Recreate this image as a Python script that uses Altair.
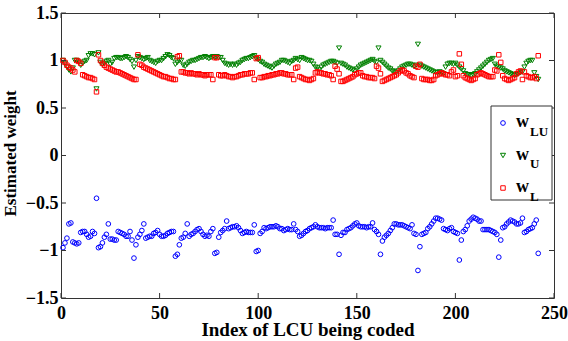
import altair as alt
import pandas as pd

# LCU index for every coded unit
x_index = list(range(1, 243))

# Estimated weight of the left-upper neighbour
w_lu = [
    -0.97, -0.92, -0.87, -0.72, -0.71, -0.91, -0.92, -0.93, -0.92, -0.81,
    -0.80, -0.80, -0.83, -0.86, -0.85, -0.80, -0.82, -0.45, -0.97, -0.96,
    -0.92, -0.86, -0.83, -0.72, -0.88, -0.88, -0.89, -0.89, -0.80, -0.81,
    -0.82, -0.83, -0.85, -0.85, -0.80, -0.89, -1.08, -0.94, -0.86, -0.83,
    -0.79, -0.72, -0.87, -0.86, -0.85, -0.85, -0.82, -0.81, -0.79, -0.83,
    -0.85, -0.85, -0.84, -0.82, -0.81, -0.80, -0.80, -1.06, -1.04, -0.94,
    -0.87, -0.86, -0.82, -0.72, -0.85, -0.83, -0.82, -0.80, -0.78, -0.77,
    -0.80, -0.83, -0.85, -0.84, -0.85, -0.80, -0.77, -1.03, -1.02, -0.86,
    -0.81, -0.79, -0.77, -0.69, -0.77, -0.76, -0.75, -0.75, -0.74, -0.76,
    -0.79, -0.82, -0.81, -0.80, -0.81, -0.81, -0.81, -0.73, -1.01, -1.00,
    -0.82, -0.80, -0.76, -0.77, -0.76, -0.75, -0.75, -0.75, -0.74, -0.75,
    -0.77, -0.77, -0.79, -0.78, -0.77, -0.78, -0.78, -0.72, -0.78, -0.80,
    -0.85, -0.84, -0.82, -0.80, -0.79, -0.77, -0.76, -0.75, -0.73, -0.75,
    -0.76, -0.76, -0.76, -0.77, -0.76, -0.76, -0.76, -0.68, -0.83, -0.83,
    -1.04, -0.84, -0.81, -0.81, -0.78, -0.77, -0.76, -0.74, -0.72, -0.71,
    -0.74, -0.75, -0.75, -0.75, -0.76, -0.75, -0.75, -0.71, -0.78, -0.80,
    -0.83, -1.04, -0.90, -0.86, -0.84, -0.82, -0.79, -0.76, -0.72, -0.72,
    -0.73, -0.73, -0.73, -0.74, -0.75, -0.76, -0.77, -0.73, -0.82, -0.83,
    -1.21, -0.96, -0.83, -0.82, -0.81, -0.77, -0.75, -0.72, -0.69, -0.66,
    -0.66, -0.67, -0.68, -0.77, -0.78, -0.79, -0.77, -0.76, -0.80, -0.81,
    -0.82, -1.10, -0.89, -0.80, -0.78, -0.74, -0.69, -0.67, -0.65, -0.66,
    -0.67, -0.69, -0.69, -0.78, -0.78, -0.78, -0.78, -0.79, -0.80, -0.81,
    -0.83, -1.07, -0.89, -0.76, -0.75, -0.72, -0.70, -0.68, -0.69, -0.70,
    -0.72, -0.72, -0.71, -0.66, -0.81, -0.80, -0.78, -0.77, -0.76, -0.72,
    -0.68, -1.03,
]

# Estimated weight of the upper neighbour
w_u = [
    1.00, 0.97, 0.93, 0.90, 0.88, 0.92, 1.00, 1.00, 0.98, 0.95,
    0.97, 0.99, 1.00, 1.05, 1.07, 1.07, 1.06, 0.70, 1.08, 0.98,
    0.96, 0.97, 0.99, 1.00, 0.96, 0.98, 1.02, 1.03, 1.03, 1.02,
    1.02, 1.03, 1.04, 1.03, 1.01, 0.99, 0.93, 1.00, 1.04, 1.03,
    1.02, 1.01, 1.02, 1.03, 1.00, 0.99, 0.98, 0.97, 0.99, 1.00,
    1.00, 1.02, 1.04, 1.06, 1.05, 1.03, 1.02, 0.96, 0.98, 1.00,
    1.00, 0.95, 0.94, 0.96, 0.98, 0.99, 1.00, 1.00, 1.01, 1.02,
    1.03, 1.03, 1.04, 1.03, 1.02, 1.03, 1.04, 1.03, 1.04, 1.03,
    1.03, 1.00, 0.97, 0.96, 0.95, 0.96, 0.95, 0.96, 0.95, 0.97,
    0.98, 1.00, 1.01, 1.02, 1.02, 1.03, 1.04, 1.05, 1.02, 1.01,
    0.99, 0.98, 0.96, 0.95, 0.94, 0.93, 0.92, 0.94, 0.96, 0.97,
    0.98, 1.00, 1.00, 0.99, 0.98, 0.97, 0.99, 1.00, 1.02, 1.01,
    1.00, 1.03, 1.02, 1.01, 1.00, 1.00, 0.99, 0.96, 0.93, 0.92,
    0.90, 0.93, 0.95, 0.96, 0.97, 0.98, 0.99, 0.99, 0.98, 0.97,
    1.13, 0.97, 0.96, 0.95, 0.93, 0.92, 0.91, 0.90, 0.89, 0.91,
    0.93, 0.95, 0.96, 0.97, 0.98, 0.99, 1.00, 1.01, 0.99, 0.98,
    1.13, 1.00, 0.98, 0.96, 0.94, 0.92, 0.91, 0.89, 0.88, 0.87,
    0.89, 0.91, 0.93, 0.94, 0.95, 0.96, 0.96, 0.95, 0.94, 0.95,
    1.17, 0.95, 0.94, 0.93, 0.92, 0.91, 0.90, 0.89, 0.88, 0.87,
    0.87, 0.88, 0.87, 0.86, 0.93, 0.96, 0.97, 0.97, 0.96, 0.97,
    0.95, 0.93, 0.91, 0.89, 0.86, 0.85, 0.85, 0.84, 0.85, 0.86,
    0.88, 0.90, 0.92, 0.94, 0.96, 0.98, 1.00, 1.01, 1.02, 0.96,
    0.94, 0.93, 0.92, 0.91, 0.89, 0.88, 0.87, 0.86, 0.85, 0.84,
    0.85, 0.86, 0.87, 0.88, 0.93, 0.97, 0.99, 1.00, 1.00, 0.87,
    0.83, 0.80,
]

# Estimated weight of the left neighbour
w_l = [
    1.00, 0.98, 0.95, 0.93, 0.92, 0.90, 0.88, 1.00, 0.99, 0.97,
    0.85, 0.84, 0.83, 0.82, 0.82, 0.81, 0.80, 0.67, 1.06, 1.00,
    0.97, 0.95, 0.93, 0.92, 0.91, 0.90, 0.89, 0.88, 0.88, 0.87,
    0.86, 0.85, 0.84, 0.83, 0.82, 0.81, 0.80, 0.80, 1.06, 0.96,
    0.95, 0.93, 0.92, 0.91, 0.90, 0.89, 0.88, 0.87, 0.86, 0.85,
    0.84, 0.83, 0.83, 0.82, 0.81, 0.81, 0.80, 0.80, 1.04, 1.05,
    0.88, 0.88, 0.87, 0.87, 0.86, 0.87, 0.86, 0.86, 0.85, 0.86,
    0.85, 0.85, 0.84, 0.85, 0.85, 0.85, 0.80, 1.03, 1.03, 0.85,
    0.84, 0.84, 0.85, 0.84, 0.83, 0.83, 0.82, 0.83, 0.83, 0.84,
    0.85, 0.85, 0.86, 0.86, 0.86, 0.87, 0.87, 0.80, 1.02, 1.03,
    0.82, 0.82, 0.83, 0.83, 0.84, 0.84, 0.85, 0.85, 0.86, 0.86,
    0.87, 0.87, 0.86, 0.86, 0.85, 0.85, 0.85, 0.80, 0.92, 0.93,
    0.83, 0.82, 0.81, 0.80, 0.80, 0.79, 0.80, 0.81, 0.87, 0.88,
    0.87, 0.87, 0.86, 0.86, 0.85, 0.85, 0.84, 0.80, 0.94, 0.91,
    0.86, 0.78, 0.78, 0.79, 0.80, 0.81, 0.82, 0.83, 0.85, 0.86,
    0.87, 0.87, 0.84, 0.83, 0.83, 0.82, 0.82, 0.82, 0.81, 0.94,
    0.92, 0.86, 0.78, 0.79, 0.80, 0.81, 0.82, 0.83, 0.84, 0.85,
    0.87, 0.89, 0.90, 0.89, 0.87, 0.86, 0.84, 0.83, 0.82, 0.94,
    0.93, 0.96, 0.81, 0.80, 0.80, 0.80, 0.79, 0.79, 0.80, 0.84,
    0.85, 0.86, 0.87, 0.86, 0.85, 0.85, 0.84, 0.88, 0.90, 0.83,
    0.84, 1.07, 0.96, 0.84, 0.82, 0.81, 0.80, 0.79, 0.80, 0.81,
    0.85, 0.86, 0.87, 0.86, 0.85, 0.84, 0.83, 0.83, 0.83, 0.90,
    0.89, 1.06, 0.98, 0.84, 0.81, 0.80, 0.79, 0.80, 0.81, 0.82,
    0.86, 0.88, 0.89, 0.80, 0.88, 0.84, 0.83, 0.82, 0.82, 0.83,
    0.81, 1.05,
]

series_values = [w_lu, w_u, w_l]
series_colors = ["#0000ff", "#008000", "#ff0000"]
series_shapes = ["circle", "triangle-down", "square"]
series_sizes = [22, 26, 20]
legend_main = ["w", "w", "w"]
legend_sub = ["LU", "U", "L"]
x_ticks = [0, 50, 100, 150, 200, 250]
y_ticks = [-1.5, -1, -0.5, 0, 0.5, 1, 1.5]

FONT = "Liberation Serif"
PLOT_W, PLOT_H = 493, 285
TICK_LEN = 5
FRAME = "#333333"

x_scale = alt.Scale(domain=[0, 250], nice=False, zero=False)
y_scale = alt.Scale(domain=[-1.5, 1.5], nice=False, zero=False)

x_axis = alt.Axis(
    values=x_ticks, format="d", grid=False, domain=False, ticks=False, tickSize=0,
    labelFont=FONT, labelFontSize=18, labelFontWeight="bold", labelColor="black",
    labelPadding=6, labelFlush=False, labelOverlap=False,
    title="Index of LCU being coded", titleFont=FONT, titleFontSize=19,
    titleFontWeight="bold", titleColor="black", titleBaseline="alphabetic",
    titleY=37,
)
y_axis = alt.Axis(
    values=y_ticks, format=".1~f", grid=False, domain=False, ticks=False, tickSize=0,
    labelFont=FONT, labelFontSize=18, labelFontWeight="bold", labelColor="black",
    labelPadding=3, labelFlush=False, labelOverlap=False, labelBaseline="middle",
    title="Estimated weight", titleFont=FONT, titleFontSize=17,
    titleFontWeight="bold", titleColor="black", titleBaseline="alphabetic",
    titleX=-46, titleY=140,
)


def enc_x(field):
    return alt.X(field, type="quantitative", scale=x_scale, axis=x_axis,
                 title="Index of LCU being coded")


def enc_y(field):
    return alt.Y(field, type="quantitative", scale=y_scale, axis=y_axis,
                 title="Estimated weight")


layers = []

# scatter series
for vals, color, shape, size in zip(series_values, series_colors, series_shapes, series_sizes):
    d = pd.DataFrame({"idx": x_index, "weight": vals})
    layers.append(
        alt.Chart(d).mark_point(shape=shape, filled=False, color=color,
                                size=size, strokeWidth=1, opacity=1)
        .encode(x=enc_x("idx"), y=enc_y("weight"))
    )

# inward tick marks on all four sides of the box
xt = pd.DataFrame({"t": x_ticks})
yt = pd.DataFrame({"t": y_ticks})
layers.append(alt.Chart(xt).mark_rule(color=FRAME, strokeWidth=1).encode(
    x=enc_x("t"), y=alt.value(PLOT_H), y2=alt.value(PLOT_H - TICK_LEN)))
layers.append(alt.Chart(xt).mark_rule(color=FRAME, strokeWidth=1).encode(
    x=enc_x("t"), y=alt.value(0), y2=alt.value(TICK_LEN)))
layers.append(alt.Chart(yt).mark_rule(color=FRAME, strokeWidth=1).encode(
    y=enc_y("t"), x=alt.value(0), x2=alt.value(TICK_LEN)))
layers.append(alt.Chart(yt).mark_rule(color=FRAME, strokeWidth=1).encode(
    y=enc_y("t"), x=alt.value(PLOT_W), x2=alt.value(PLOT_W - TICK_LEN)))

# legend box
layers.append(alt.Chart(pd.DataFrame({"k": [0]})).mark_rect(
    fill="white", stroke=FRAME, strokeWidth=1).encode(
    x=alt.value(430), x2=alt.value(491), y=alt.value(93), y2=alt.value(187)))

for k in range(3):
    yk = 110 + 32.5 * k
    ld = pd.DataFrame({"main": [legend_main[k]], "sub": [legend_sub[k]]})
    layers.append(alt.Chart(ld).mark_point(
        shape=series_shapes[k], filled=False, color=series_colors[k],
        size=series_sizes[k], strokeWidth=1, opacity=1).encode(
        x=alt.value(442), y=alt.value(yk)))
    layers.append(alt.Chart(ld).mark_text(
        font=FONT, fontSize=18, fontWeight="bold", color="black",
        align="left", baseline="alphabetic").encode(
        x=alt.value(455), y=alt.value(yk + 4), text="main:N"))
    layers.append(alt.Chart(ld).mark_text(
        font=FONT, fontSize=13, fontWeight="bold", color="black",
        align="left", baseline="alphabetic").encode(
        x=alt.value(469), y=alt.value(yk + 12.5), text="sub:N"))

chart = (
    alt.layer(*layers)
    .properties(width=PLOT_W, height=PLOT_H,
                autosize=alt.AutoSizeParams(type="none"),
                padding={"left": 61, "top": 13, "right": 14, "bottom": 43},
                background="white")
    .configure_view(stroke=FRAME, strokeWidth=1)
)

chart.save("out.html", embed_options={"renderer": "svg", "actions": False})
